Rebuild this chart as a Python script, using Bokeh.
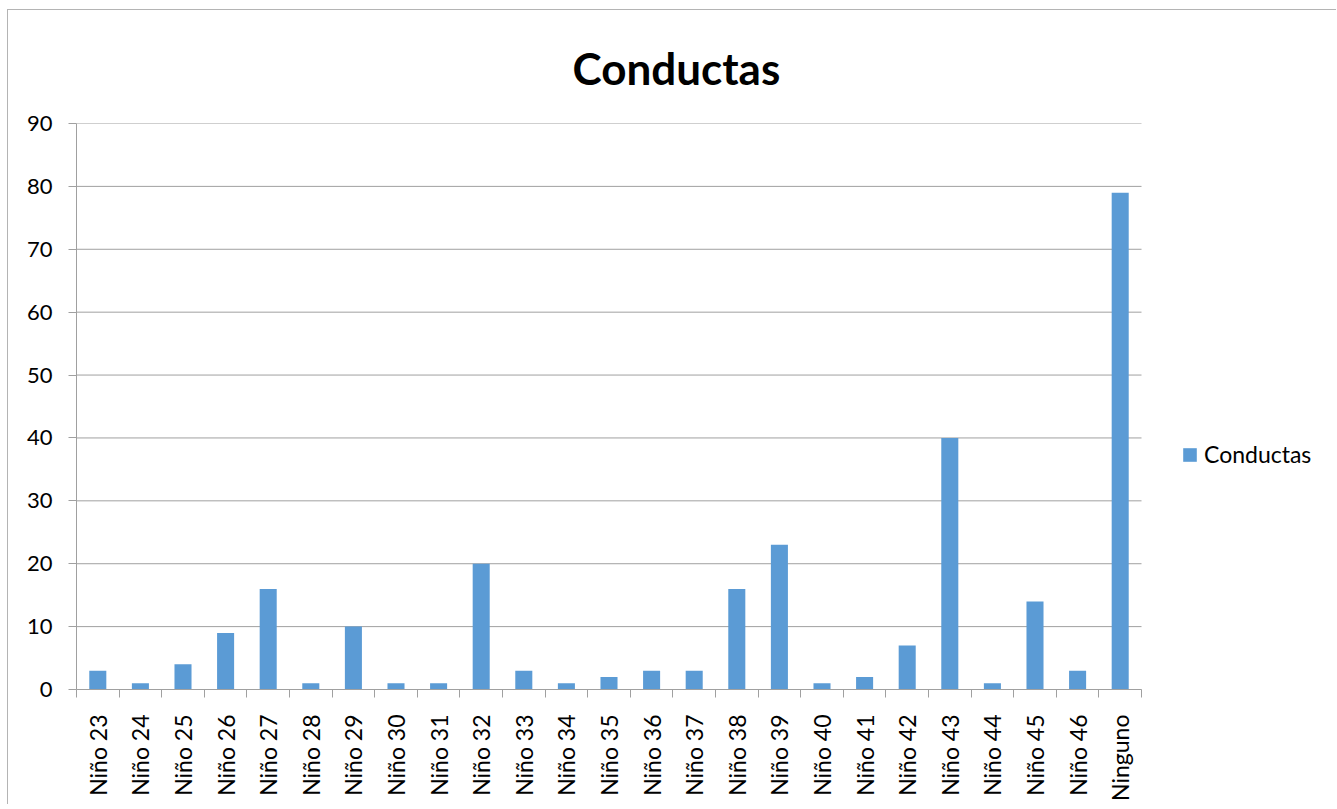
from math import pi
from bokeh.plotting import figure
from bokeh.models import (ColumnDataSource, Range1d, LinearAxis, FixedTicker, Legend, LegendItem, Title)
from bokeh.embed import file_html
from bokeh.resources import INLINE

# ---- data ----
categories = ["Niño 23", "Niño 24", "Niño 25", "Niño 26", "Niño 27", "Niño 28", "Niño 29",
              "Niño 30", "Niño 31", "Niño 32", "Niño 33", "Niño 34", "Niño 35", "Niño 36",
              "Niño 37", "Niño 38", "Niño 39", "Niño 40", "Niño 41", "Niño 42", "Niño 43",
              "Niño 44", "Niño 45", "Niño 46", "Ninguno"]
values = [3, 1, 4, 9, 16, 1, 10, 1, 1, 20, 3, 1, 2, 3, 3, 16, 23, 1, 2, 7, 40, 1, 14, 3, 79]
y_ticks = [0, 10, 20, 30, 40, 50, 60, 70, 80, 90]
series_name = "Conductas"
title_text = "Conductas"

# ---- style / layout constants ----
FONT = "Lato"
GRID = "#a0a0a0"
BAR = "#5b9bd5"
FIG_W, FIG_H = 1329, 795
LEFT = 68
FRAME_W = FIG_W - LEFT          # frame spans to the right edge (legend lives inside it)
CAT_W = 1065                    # pixel width used by the categories

n = len(categories)
centers = [i + 0.5 for i in range(n)]
bounds = list(range(n + 1))
src = ColumnDataSource(dict(x=centers, cat=categories, val=values))

p = figure(x_range=Range1d(0, n * FRAME_W / CAT_W), y_range=Range1d(0, 90),
           width=FIG_W, height=FIG_H, output_backend="svg", toolbar_location=None,
           x_axis_location=None, y_axis_location=None,
           min_border_left=LEFT, min_border_right=0, min_border_top=112, min_border_bottom=116)
p.styles = {"margin-left": "7px", "margin-top": "9px",
            "border-left": "1px solid #b4b4b4", "border-top": "1px solid #b4b4b4"}
p.outline_line_color = None
p.background_fill_color = "white"
p.border_fill_color = "white"
p.xgrid.grid_line_color = None
p.ygrid.grid_line_color = None

# horizontal gridlines limited to the category area
p.segment(x0=[0] * len(y_ticks), x1=[n] * len(y_ticks), y0=y_ticks, y1=y_ticks,
          line_color=GRID, line_width=1)

r = p.vbar(x="x", top="val", width=0.4, source=src, fill_color=BAR, line_color=None)

# y axis
yax = LinearAxis(ticker=FixedTicker(ticks=y_ticks))
yax.axis_line_color = GRID
yax.major_tick_line_color = GRID
yax.major_tick_out = 8
yax.major_tick_in = 0
yax.minor_tick_line_color = None
yax.major_label_text_font = FONT
yax.major_label_text_font_size = "22px"
yax.major_label_text_color = "black"
yax.major_label_standoff = 16
p.add_layout(yax, "left")

# category axis: labels at centers, Excel-style ticks between categories (minor ticks)
cax = LinearAxis(ticker=FixedTicker(ticks=centers, minor_ticks=bounds),
                 major_label_overrides={c: name for c, name in zip(centers, categories)},
                 bounds=(0, n))
cax.axis_line_color = GRID
cax.major_tick_line_color = None
cax.major_tick_out = 0
cax.major_tick_in = 0
cax.minor_tick_line_color = GRID
cax.minor_tick_out = 8
cax.minor_tick_in = 0
cax.major_label_orientation = pi / 2
cax.major_label_text_font = FONT
cax.major_label_text_font_size = "23px"
cax.major_label_text_color = "black"
cax.major_label_standoff = 17
p.add_layout(cax, "below")

# title
t = Title(text=title_text, align="left", vertical_align="bottom", text_font=FONT,
          text_font_size="44px", text_font_style="bold", text_color="black",
          offset=496, standoff=59)
p.add_layout(t, "above")

# legend (inside the frame, to the right of the categories)
legend = Legend(items=[LegendItem(label=series_name, renderers=[r])],
                location=(1105, 221), orientation="vertical",
                label_text_font=FONT, label_text_font_size="23px", label_text_color="black",
                glyph_width=17, glyph_height=17, label_standoff=6, padding=0, margin=0,
                border_line_color=None, background_fill_alpha=0)
p.add_layout(legend, "center")

open("out.html", "w").write(file_html(p, INLINE))
